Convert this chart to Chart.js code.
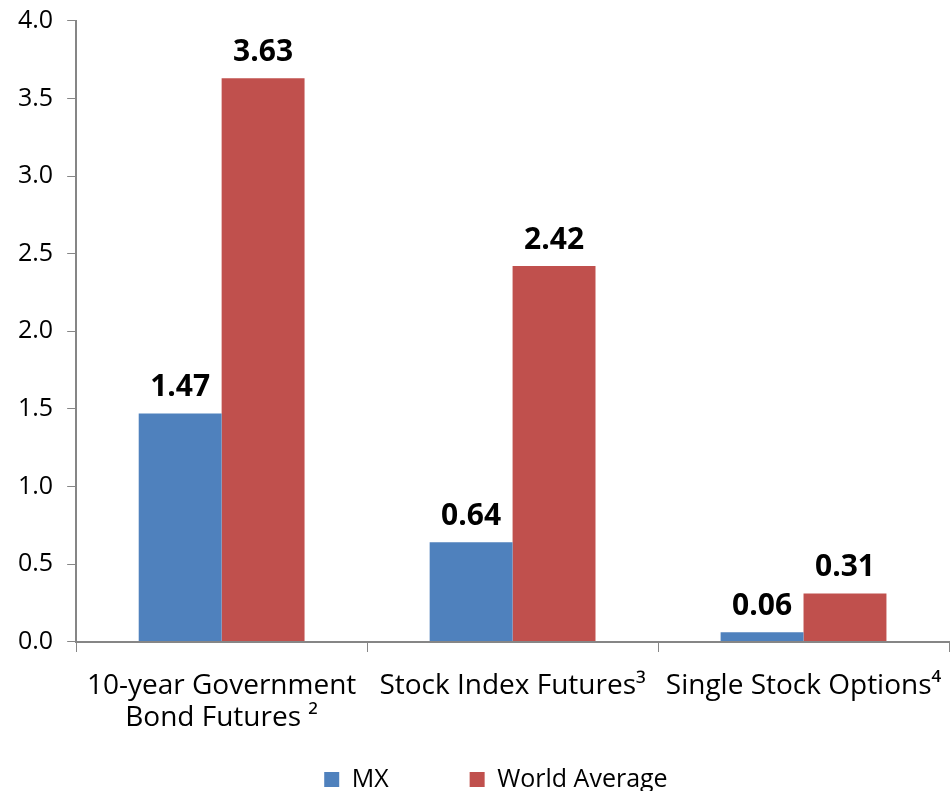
<!DOCTYPE html>
<html>
<head>
<meta charset="utf-8">
<script src="https://cdn.jsdelivr.net/npm/chart.js@4"></script>
<style>
  body { margin: 0; background: #fff; }
  #wrap { width: 952px; height: 791px; position: relative; }
</style>
</head>
<body>
<div id="wrap"><canvas id="chart"></canvas></div>
<script>
// values
const categories = [["10-year Government", "Bond Futures \u00b2"], "Stock Index Futures\u00b3", "Single Stock Options\u2074"];
const mxValues = [1.47, 0.64, 0.06];
const worldValues = [3.63, 2.42, 0.31];
const seriesNames = ["MX", "World Average"];

const FONT = "'Open Sans', sans-serif";
const AXIS_COLOR = "#868686";

// draws the bold value above each bar
const valueLabels = {
  id: "valueLabels",
  afterDatasetsDraw(chart) {
    const ctx = chart.ctx;
    ctx.save();
    ctx.font = "bold 30px " + FONT;
    ctx.fillStyle = "#000";
    ctx.textAlign = "center";
    ctx.textBaseline = "alphabetic";
    chart.data.datasets.forEach((ds, i) => {
      chart.getDatasetMeta(i).data.forEach((bar, j) => {
        ctx.fillText(ds.data[j].toFixed(2), bar.x, bar.y - 17);
      });
    });
    ctx.restore();
  }
};

new Chart(document.getElementById("chart"), {
  type: "bar",
  data: {
    labels: categories,
    datasets: [
      { label: seriesNames[0], data: mxValues, backgroundColor: "#4F81BD" },
      { label: seriesNames[1], data: worldValues, backgroundColor: "#C0504D" }
    ]
  },
  options: {
    responsive: true,
    maintainAspectRatio: false,
    animation: false,
    datasets: { bar: { categoryPercentage: 0.57, barPercentage: 1.0 } },
    layout: { padding: { top: 0, right: 3, left: 4, bottom: -11 } },
    plugins: {
      tooltip: { enabled: false },
      legend: {
        position: "bottom",
        fullSize: false,
        labels: {
          font: { family: FONT, size: 25 },
          color: "#000",
          boxWidth: 15,
          boxHeight: 15,
          padding: 31,
          // wider gap after the first entry and a little slack after the last, as in the original
          generateLabels(chart) {
            const items = Chart.defaults.plugins.legend.labels.generateLabels(chart);
            items[0].text += "\u2003\u2003";
            items[1].text += "\u2003\u2009\u2009";
            return items;
          }
        }
      }
    },
    scales: {
      x: {
        grid: {
          offset: true,
          drawOnChartArea: false,
          color: AXIS_COLOR,
          tickLength: 26,
          tickBorderDash: [9, 200]
        },
        border: { color: AXIS_COLOR, width: 2 },
        ticks: {
          font: { family: FONT, size: 28, lineHeight: 1.15 },
          color: "#000",
          maxRotation: 0,
          autoSkip: false,
          padding: 2
        }
      },
      y: {
        min: 0,
        max: 4,
        grid: {
          drawOnChartArea: false,
          color: AXIS_COLOR,
          tickLength: 9
        },
        border: { color: AXIS_COLOR, width: 2 },
        ticks: {
          stepSize: 0.5,
          font: { family: FONT, size: 25, lineHeight: 0.55 },
          color: "#000",
          padding: 14,
          callback: (v) => v.toFixed(1)
        }
      }
    }
  },
  plugins: [valueLabels]
});
</script>
</body>
</html>
